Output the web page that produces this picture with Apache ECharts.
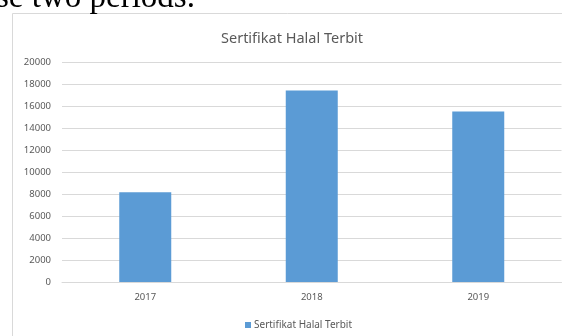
<!DOCTYPE html>
<html>
<head>
<meta charset="utf-8">
<script src="https://cdn.jsdelivr.net/npm/echarts@6/dist/echarts.min.js"></script>
<style>html,body{margin:0;padding:0;background:#fff;}#c{width:562px;height:336px;}</style>
</head>
<body>
<div id="c"></div>
<script>
const categories = ['2017', '2018', '2019'];
const seriesName = 'Sertifikat Halal Terbit';
const values = [8150, 17400, 15500];
const titleText = 'Sertifikat Halal Terbit';
const captionText = 'se two periods.';

const chart = echarts.init(document.getElementById('c'), null, {renderer: 'canvas'});
chart.setOption({
  animation: false,
  backgroundColor: '#fff',
  title: {
    text: titleText,
    left: 216,
    top: 26,
    textStyle: {fontFamily: 'Noto Sans', fontSize: 14.5, fontWeight: 'normal', color: '#595959'}
  },
  graphic: [
    {type: 'rect', shape: {x: 12.5, y: 13.5, width: 620, height: 400}, style: {fill: 'none', stroke: '#d9d9d9', lineWidth: 1}, z: -1},
    {type: 'text', x: -4, y: -18, style: {text: captionText, font: '33px "Liberation Serif"', fill: '#000'}}
  ],
  legend: {
    data: [seriesName],
    left: 240,
    top: 315,
    itemWidth: 6,
    itemHeight: 6,
    icon: 'rect',
    textStyle: {fontFamily: 'Noto Sans', fontSize: 10, color: '#595959', padding: [0, 0, 0, -2]}
  },
  grid: {left: 62, right: 0.5, top: 62, bottom: 54, containLabel: false},
  xAxis: {
    type: 'category',
    data: categories,
    axisLine: {lineStyle: {color: '#d9d9d9'}},
    axisTick: {show: false},
    axisLabel: {fontFamily: 'Noto Sans', fontSize: 9.5, color: '#595959', margin: 10}
  },
  yAxis: {
    type: 'value',
    min: 0,
    max: 20000,
    interval: 2000,
    axisLine: {show: false},
    axisTick: {show: false},
    splitLine: {lineStyle: {color: '#d9d9d9'}},
    axisLabel: {fontFamily: 'Noto Sans', fontSize: 9.5, color: '#595959', margin: 11, formatter: function (v) { return String(v); }}
  },
  series: [{
    name: seriesName,
    type: 'bar',
    data: values,
    barWidth: 52,
    itemStyle: {color: '#5B9BD5'}
  }]
});
</script>
</body>
</html>
